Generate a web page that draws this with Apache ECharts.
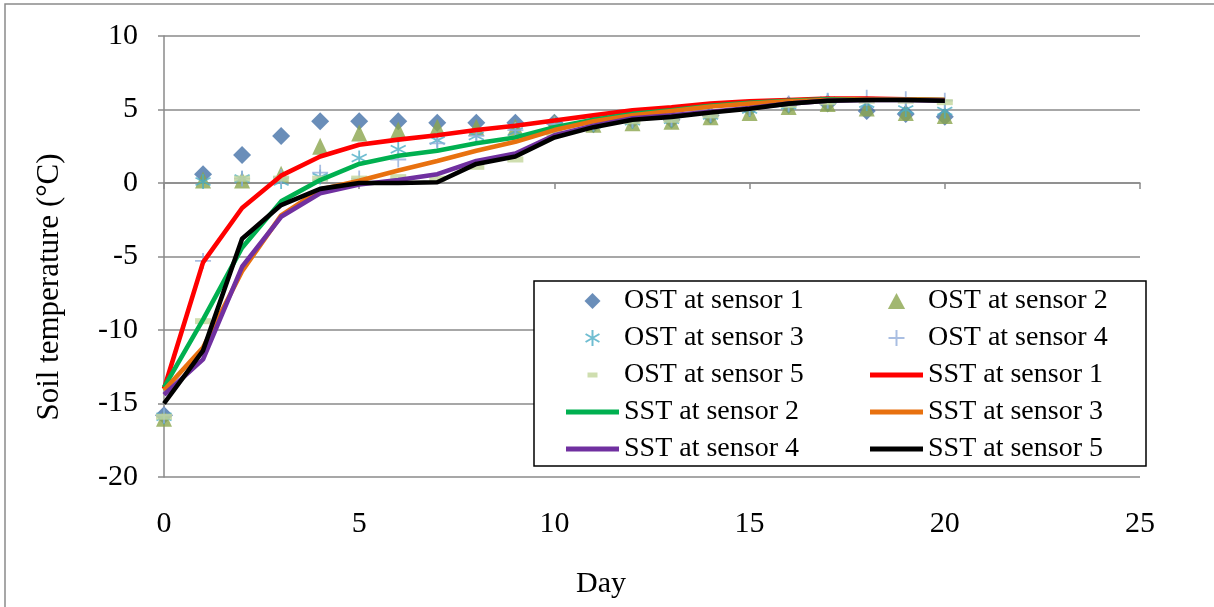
<!DOCTYPE html>
<html>
<head>
<meta charset="utf-8">
<script src="https://cdn.jsdelivr.net/npm/echarts@6/dist/echarts.min.js"></script>
<style>
  html, body { margin: 0; padding: 0; background: #fff; }
  #main { width: 1214px; height: 607px; }
</style>
</head>
<body>
<div id="main"></div>
<script type="text/javascript">
    // days on the x axis
    var days = [0, 1, 2, 3, 4, 5, 6, 7, 8, 9, 10, 11, 12, 13, 14, 15, 16, 17, 18, 19, 20];

    // observed soil temperature (markers)
    var ost1 = [-15.8, 0.6, 1.9, 3.2, 4.2, 4.2, 4.2, 4.1, 4.1, 4.1, 4.1, 4.0, 4.3, 4.3, 4.6, 5.1, 5.3, 5.4, 4.9, 4.7, 4.5];
    var ost2 = [-16.0, 0.2, 0.2, 0.6, 2.5, 3.4, 3.6, 3.8, 3.8, 3.8, 4.1, 4.0, 4.1, 4.2, 4.5, 4.8, 5.2, 5.4, 5.1, 4.8, 4.6];
    var ost3 = [-15.9, 0.1, 0.3, 0.1, 0.4, 1.7, 2.3, 2.9, 3.2, 3.5, 3.9, 4.0, 4.2, 4.3, 4.6, 5.0, 5.3, 5.6, 5.4, 5.0, 4.9];
    var ost4 = [-15.8, -5.3, 0.3, 0.4, 0.7, 0.3, 1.6, 2.7, 3.2, 3.6, 4.0, 4.1, 4.3, 4.4, 4.7, 5.1, 5.4, 5.6, 5.8, 5.7, 5.6];
    var ost5 = [-15.9, -9.4, 0.3, 0.3, 0.3, 0.3, 0.4, 0.3, 1.1, 1.6, 3.4, 4.0, 4.2, 4.3, 4.6, 5.1, 5.3, 5.5, 5.6, 5.6, 5.5];

    // simulated soil temperature (lines)
    var sst1 = [-14.0, -5.4, -1.7, 0.5, 1.8, 2.6, 2.95, 3.25, 3.6, 3.9, 4.25, 4.6, 4.95, 5.15, 5.4, 5.55, 5.65, 5.75, 5.75, 5.7, 5.65];
    var sst2 = [-13.9, -9.3, -4.4, -1.25, 0.2, 1.3, 1.85, 2.2, 2.7, 3.1, 3.8, 4.3, 4.7, 4.95, 5.25, 5.45, 5.6, 5.7, 5.7, 5.68, 5.65];
    var sst3 = [-14.1, -11.2, -6.0, -2.2, -0.45, 0.15, 0.85, 1.5, 2.2, 2.8, 3.6, 4.2, 4.6, 4.9, 5.2, 5.4, 5.55, 5.65, 5.7, 5.68, 5.65];
    var sst4 = [-14.4, -12.0, -5.7, -2.3, -0.7, -0.1, 0.2, 0.6, 1.5, 2.0, 3.25, 3.9, 4.4, 4.6, 4.85, 5.1, 5.4, 5.6, 5.65, 5.65, 5.6];
    var sst5 = [-15.0, -11.4, -3.8, -1.5, -0.4, 0.0, 0.0, 0.05, 1.3, 1.8, 3.1, 3.8, 4.3, 4.5, 4.8, 5.05, 5.4, 5.6, 5.65, 5.65, 5.6];

    var xTicks = [0, 5, 10, 15, 20, 25];
    var yTicks = [-20, -15, -10, -5, 0, 5, 10];

    var FONT = '"Liberation Serif", "Times New Roman", serif';
    var GRAY = '#8a8a8a';

    // marker shapes
    var DIAMOND = 'path://M7,0L14,7L7,14L0,7Z';
    var TRIANGLE = 'path://M7,0L14,13L0,13Z';
    var ASTERISK = 'path://M10,0L10,20M1.34,5L18.66,15M1.34,15L18.66,5';
    var PLUS = 'path://M0,10L20,10M10,0L10,20';
    var DASH = 'path://M0,0L16,0L16,6L0,6Z';
    // legend icons (boxes padded to the 53x16 legend item so they keep their size)
    var DASH_ICON = 'path://M0,0L0.01,0ZM21.5,5.5L31.5,5.5L31.5,10.5L21.5,10.5ZM53,16L52.99,16Z';
    var LINE_ICON = 'path://M0,0L53,0L53,5L0,5Z';

    function pairs(ys) {
        var out = [];
        for (var i = 0; i < days.length; i++) {
            out.push([days[i], ys[i]]);
        }
        return out;
    }

    function scatter(name, values, symbol, size, style) {
        return {
            name: name,
            type: 'scatter',
            data: pairs(values),
            symbol: symbol,
            symbolSize: size,
            itemStyle: style,
            emphasis: { disabled: true }
        };
    }

    function line(name, values, color) {
        return {
            name: name,
            type: 'line',
            data: pairs(values),
            showSymbol: false,
            symbol: 'none',
            color: color,
            lineStyle: { color: color, width: 4.6 },
            emphasis: { disabled: true }
        };
    }

    var series = [
        scatter('OST at sensor 1', ost1, DIAMOND, [18, 18], { color: '#4572A7' }),
        scatter('OST at sensor 2', ost2, TRIANGLE, [16, 17], { color: '#8BA54E' }),
        scatter('OST at sensor 3', ost3, ASTERISK, [15, 15], { color: 'rgba(0,0,0,0)', borderColor: '#4BACC6', borderWidth: 1.8 }),
        scatter('OST at sensor 4', ost4, PLUS, [16, 16], { color: 'rgba(0,0,0,0)', borderColor: '#93AEDB', borderWidth: 1.8 }),
        scatter('OST at sensor 5', ost5, DASH, [16, 6], { color: '#C3D69B' }),
        line('SST at sensor 1', sst1, '#FF0000'),
        line('SST at sensor 2', sst2, '#00B050'),
        line('SST at sensor 3', sst3, '#E8710F'),
        line('SST at sensor 4', sst4, '#7030A0'),
        line('SST at sensor 5', sst5, '#000000')
    ];

    var legendBase = {
        orient: 'vertical',
        padding: 0,
        itemWidth: 53,
        itemHeight: 16,
        itemGap: 9,
        selectedMode: false,
        textStyle: { fontFamily: FONT, fontSize: 28, color: '#000' }
    };

    var myChart = echarts.init(document.getElementById('main'));

    var option = {
        animation: false,
        backgroundColor: '#fff',
        grid: { left: 164, top: 36, right: 74, bottom: 130, containLabel: false, outerBoundsMode: 'none' },
        xAxis: {
            type: 'value',
            min: 0,
            max: 25,
            interval: 5,
            axisLine: { show: true, lineStyle: { color: GRAY, width: 1.5 } },
            axisTick: { show: true, length: 6, lineStyle: { color: GRAY, width: 1.5 } },
            axisLabel: {
                margin: 32, fontFamily: FONT, fontSize: 30, color: '#000',
                formatter: function (v) { return xTicks.indexOf(v) >= 0 ? String(v) : ''; }
            },
            splitLine: { show: false }
        },
        yAxis: {
            type: 'value',
            min: -20,
            max: 10,
            interval: 5,
            axisLine: { show: true, onZero: false, lineStyle: { color: GRAY, width: 1.5 } },
            axisTick: { show: true, length: 6, lineStyle: { color: GRAY, width: 1.5 } },
            axisLabel: {
                margin: 26, fontFamily: FONT, fontSize: 30, color: '#000',
                formatter: function (v) { return yTicks.indexOf(v) >= 0 ? String(v) : ''; }
            },
            splitLine: { show: true, lineStyle: { color: GRAY, width: 1.5 } }
        },
        legend: [
            echarts.util.extend({
                left: 566, top: 287,
                data: [
                    { name: 'OST at sensor 1', icon: DIAMOND },
                    { name: 'OST at sensor 3' },
                    { name: 'OST at sensor 5', icon: DASH_ICON },
                    { name: 'SST at sensor 2', icon: LINE_ICON },
                    { name: 'SST at sensor 4', icon: LINE_ICON }
                ]
            }, legendBase),
            echarts.util.extend({
                left: 870, top: 287,
                data: [
                    { name: 'OST at sensor 2', icon: TRIANGLE },
                    { name: 'OST at sensor 4' },
                    { name: 'SST at sensor 1', icon: LINE_ICON },
                    { name: 'SST at sensor 3', icon: LINE_ICON },
                    { name: 'SST at sensor 5', icon: LINE_ICON }
                ]
            }, legendBase)
        ],
        graphic: [
            // outer chart frame
            {
                type: 'rect', silent: true, z: -1,
                shape: { x: 5, y: 4, width: 1230, height: 640 },
                style: { fill: 'none', stroke: GRAY, lineWidth: 1.5 }
            },
            // legend box
            {
                type: 'rect', silent: true,
                shape: { x: 534, y: 281, width: 612, height: 185 },
                style: { fill: '#fff', stroke: '#000', lineWidth: 1.5 },
                z: 3
            },
            {
                type: 'text', silent: true,
                x: 50, y: 287, rotation: Math.PI / 2,
                style: {
                    text: 'Soil temperature (°C)', font: '31px ' + FONT, fill: '#000',
                    align: 'center', verticalAlign: 'middle', textAlign: 'center', textVerticalAlign: 'middle'
                }
            },
            {
                type: 'text', silent: true,
                x: 601, y: 584,
                style: {
                    text: 'Day', font: '30px ' + FONT, fill: '#000',
                    align: 'center', verticalAlign: 'middle', textAlign: 'center', textVerticalAlign: 'middle'
                }
            }
        ],
        series: series
    };

    myChart.setOption(option);
</script>
</body>
</html>
